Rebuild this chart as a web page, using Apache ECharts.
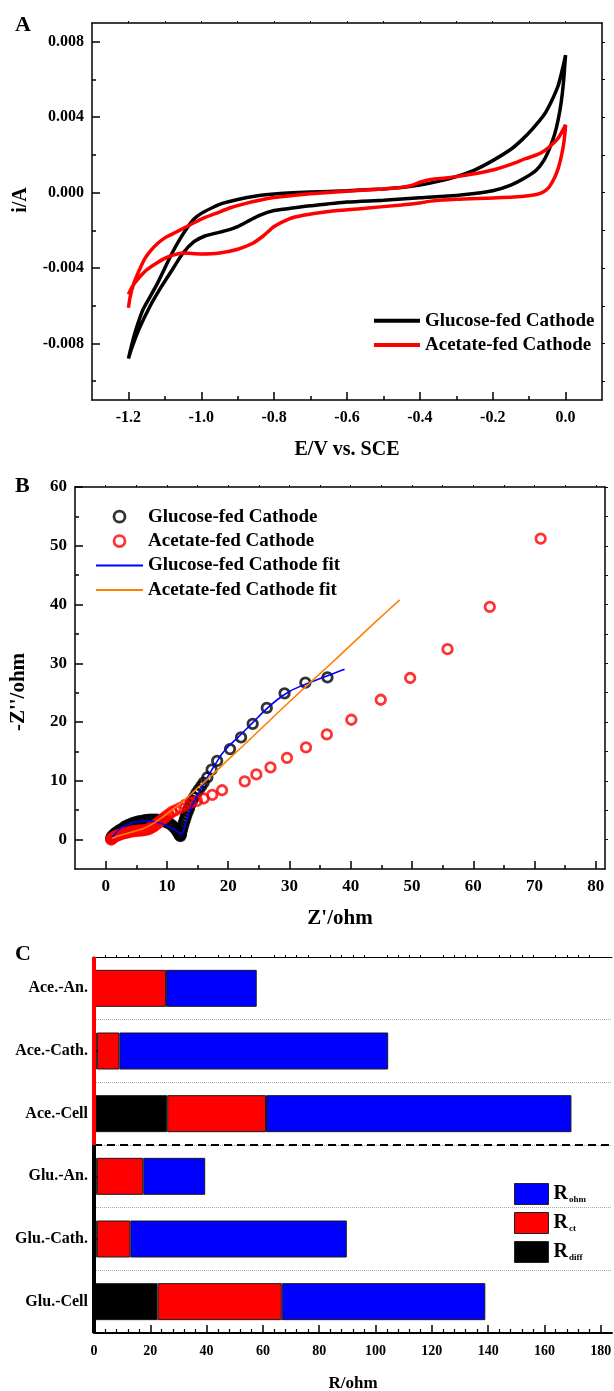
<!DOCTYPE html>
<html><head><meta charset="utf-8">
<script src="https://cdn.jsdelivr.net/npm/echarts@6/dist/echarts.min.js"></script>
<style>html,body{margin:0;padding:0;background:#fff}#c{width:614px;height:1391px}</style>
</head><body><div id="c"></div>
<script>
// ---------- Panel A: cyclic voltammetry [E (V vs SCE), i (A)] ----------
const cvGlucose = [
 [-1.2,-0.0088],[-1.19,-0.0080],[-1.18,-0.0073],[-1.16,-0.0062],[-1.14,-0.0055],[-1.12,-0.0048],[-1.10,-0.0040],
 [-1.08,-0.0032],[-1.06,-0.0025],[-1.04,-0.0019],[-1.02,-0.0014],[-1.0,-0.0011],[-0.97,-0.0008],[-0.94,-0.00056],
 [-0.90,-0.00036],[-0.85,-0.00018],[-0.80,-0.00007],[-0.70,0.00003],[-0.60,0.0001],[-0.50,0.0002],[-0.45,0.00027],
 [-0.40,0.0004],[-0.35,0.0006],[-0.30,0.00085],[-0.25,0.0012],[-0.20,0.0017],[-0.15,0.0023],[-0.12,0.0028],
 [-0.09,0.0034],[-0.06,0.0041],[-0.04,0.0048],[-0.02,0.0057],[-0.008,0.0066],[0,0.0073],
 [-0.002,0.0068],[-0.006,0.0058],[-0.012,0.0048],[-0.02,0.0039],[-0.03,0.0031],[-0.045,0.0023],[-0.06,0.0017],
 [-0.08,0.0012],[-0.11,0.0008],[-0.15,0.0004],[-0.2,0.0001],[-0.25,-0.00005],[-0.3,-0.00015],[-0.4,-0.00027],
 [-0.5,-0.0004],[-0.6,-0.0005],[-0.7,-0.0007],[-0.75,-0.00082],[-0.8,-0.00095],[-0.84,-0.0012],[-0.87,-0.0015],
 [-0.9,-0.0018],[-0.93,-0.002],[-0.96,-0.00215],[-0.99,-0.0023],[-1.02,-0.0026],[-1.05,-0.0032],[-1.08,-0.0041],
 [-1.11,-0.005],[-1.14,-0.006],[-1.17,-0.0072],[-1.19,-0.0082],[-1.2,-0.0088]
];
const cvAcetate = [
 [-1.2,-0.0061],[-1.195,-0.0055],[-1.185,-0.0048],[-1.17,-0.0041],[-1.155,-0.0035],[-1.14,-0.0031],[-1.12,-0.0027],
 [-1.10,-0.0024],[-1.08,-0.0022],[-1.06,-0.0020],[-1.03,-0.0017],[-1.0,-0.0014],[-0.96,-0.0011],[-0.92,-0.0008],
 [-0.88,-0.00058],[-0.84,-0.0004],[-0.8,-0.00026],[-0.75,-0.00015],[-0.7,-0.00006],[-0.6,0.00008],[-0.5,0.0002],
 [-0.45,0.00028],[-0.42,0.0004],[-0.4,0.00055],[-0.37,0.0007],[-0.33,0.00078],[-0.3,0.00085],[-0.25,0.001],
 [-0.2,0.0012],[-0.15,0.0015],[-0.11,0.0018],[-0.08,0.002],[-0.06,0.0022],[-0.04,0.0025],[-0.02,0.0029],
 [-0.008,0.0033],[0,0.0036],
 [-0.002,0.0031],[-0.006,0.0025],[-0.012,0.0019],[-0.02,0.0013],[-0.03,0.0008],[-0.045,0.0003],[-0.06,0.00005],
 [-0.08,-0.0001],[-0.12,-0.0002],[-0.2,-0.00028],[-0.3,-0.00035],[-0.37,-0.00045],[-0.4,-0.00055],[-0.45,-0.00065],
 [-0.55,-0.00083],[-0.65,-0.001],[-0.72,-0.0012],[-0.76,-0.0014],[-0.8,-0.0018],[-0.83,-0.0023],[-0.86,-0.0027],
 [-0.9,-0.003],[-0.95,-0.0032],[-1.0,-0.00325],[-1.05,-0.0032],[-1.09,-0.0034],[-1.12,-0.0037],[-1.15,-0.0041],
 [-1.17,-0.0045],[-1.19,-0.005],[-1.2,-0.0054]
];
const aXTicks = [-1.2,-1.0,-0.8,-0.6,-0.4,-0.2,0.0];
const aXMinor = [-1.1,-0.9,-0.7,-0.5,-0.3,-0.1];
const aYTicks = [-0.008,-0.004,0,0.004,0.008];
const aYMinor = [-0.01,-0.006,-0.002,0.002,0.006];

// ---------- Panel B: Nyquist plot [Z' (ohm), -Z'' (ohm)] ----------
const eisGlucose = [
 [0.9,0.2],[1.0,0.4],[1.1,0.6],[1.3,0.8],[1.5,1.0],[1.7,1.2],[2.0,1.4],[2.3,1.6],[2.6,1.8],[3.0,2.1],[3.3,2.3],
 [3.7,2.5],[4.0,2.6],[4.4,2.8],[4.8,2.95],[5.2,3.05],[5.6,3.15],[6.0,3.2],[6.4,3.3],[6.8,3.35],[7.2,3.4],[7.6,3.4],
 [8.0,3.4],[8.4,3.38],[8.8,3.32],[9.2,3.25],[9.6,3.12],[10.0,2.95],[10.4,2.75],[10.8,2.45],[11.1,2.15],[11.4,1.85],
 [11.6,1.55],[11.8,1.25],[12.0,0.95],[12.1,0.75],[12.2,0.6],[12.25,0.8],[12.3,1.1],[12.4,1.5],[12.5,1.9],
 [12.6,2.3],[12.75,2.8],[12.9,3.3],[13.05,3.8],[13.2,4.3],[13.4,4.8],[13.6,5.3],[13.8,5.9],[14.1,6.6],[14.4,7.2],
 [14.8,7.9],[15.2,8.5],[15.6,9.1],[16.0,9.7],[16.6,10.6],[17.3,11.9],[18.2,13.4],[20.3,15.4],[22.1,17.4],
 [24.0,19.7],[26.3,22.4],[29.2,24.9],[32.6,26.7],[36.2,27.6]
];
const eisAcetate = [
 [0.9,0.0],[1.0,0.15],[1.2,0.3],[1.4,0.45],[1.7,0.6],[2.0,0.75],[2.3,0.85],[2.7,1.0],[3.1,1.1],[3.5,1.2],
 [3.9,1.3],[4.3,1.4],[4.7,1.45],[5.1,1.5],[5.5,1.55],[5.9,1.55],[6.3,1.6],[6.7,1.7],[7.0,1.8],[7.3,1.95],[7.6,2.1],
 [7.9,2.3],[8.2,2.55],[8.5,2.8],[8.8,3.05],[9.1,3.3],[9.4,3.55],[9.8,3.9],[10.3,4.3],[10.8,4.7],[11.4,5.0],
 [12.2,5.4],[13.0,5.9],[13.9,6.3],[14.9,6.6],[16.0,7.0],[17.4,7.6],[19.0,8.4],[22.7,9.9],[24.6,11.1],[26.9,12.3],
 [29.6,13.9],[32.7,15.7],[36.1,17.9],[40.1,20.4],[44.9,23.8],[49.7,27.5],[55.8,32.4],[62.7,39.6],[71.0,51.2]
];
const fitGlucose = [
 [1,0.3],[1.5,0.9],[2,1.5],[2.5,2.0],[3,2.3],[4,2.7],[5,3.0],[6,3.1],[7,3.15],[8,3.05],[9,2.8],[10,2.4],[11,1.8],
 [12,1.2],[12.5,1.0],[13,2.6],[13.5,4.2],[14,5.6],[15,7.6],[16,9.5],[17,11.3],[18,13.0],[19,14.6],[20,15.8],
 [22,17.8],[24,19.9],[26,22.0],[28,23.8],[30,25.2],[32,26.2],[34,27.0],[36,27.8],[38,28.6],[39,29.0]
];
const fitAcetate = [
 [1,0.2],[2,0.6],[3,0.9],[4,1.2],[5,1.5],[6,1.8],[7,2.3],[8,2.9],[9,3.6],[10,4.4],[11,5.2],[12,6.0],[13,6.9],
 [14,7.8],[15,8.8],[16,9.7],[18,11.6],[20,13.6],[24,17.5],[28,21.5],[32,25.4],[36,29.2],[40,33.1],[44,37.0],[48,40.8]
];
const bXTicks = [0,10,20,30,40,50,60,70,80];
const bXMinor = [5,15,25,35,45,55,65,75];
const bYTicks = [0,10,20,30,40,50,60];
const bYMinor = [5,15,25,35,45,55];

// ---------- Panel C: resistance components (ohm) ----------
const cCategories = ['Ace.-An.','Ace.-Cath.','Ace.-Cell','Glu.-An.','Glu.-Cath.','Glu.-Cell'];
const rDiff = [0, 1, 26, 1, 1, 22.6];
const rCt   = [25.6, 8, 35.1, 16.5, 11.9, 44.1];
const rOhm  = [32.2, 95.5, 108.5, 22, 76.9, 72.3];
const cXTicks = [0,20,40,60,80,100,120,140,160,180];
const cXMinor = [];
for (let v = 4; v < 184; v += 4) if (v % 20) cXMinor.push(v);

// ---------- styling helpers ----------
const F = "'Liberation Serif','Times New Roman',serif";
const lab = (size, extra) => Object.assign({fontFamily: F, fontWeight: 'bold', fontSize: size, color: '#000'}, extra || {});
const line = (w) => ({show: true, onZero: false, lineStyle: {color: '#000', width: w || 1.5}});
const noLine = {show: false, onZero: false};

function vAxis(grid, min, max, pos, o) {
  return Object.assign({type: 'value', gridIndex: grid, min: min, max: max, position: pos,
    splitLine: {show: false}, axisLine: noLine, axisLabel: {show: false}, axisTick: {show: false}}, o);
}
const lineItem = (name, w) => ({name: name, itemStyle: {opacity: 0}, lineStyle: {width: w}});
const ringItem = (name) => ({name: name, itemStyle: {borderWidth: 2.8}});

const chart = echarts.init(document.getElementById('c'), null, {renderer: 'canvas'});
const option = {
  animation: false,
  backgroundColor: '#fff',
  grid: [
    {left: 92, top: 23, width: 510, height: 377, outerBoundsMode: 'none', containLabel: false},
    {left: 75, top: 487, width: 530, height: 382, outerBoundsMode: 'none', containLabel: false},
    {left: 94, top: 957, width: 518, height: 376, outerBoundsMode: 'none', containLabel: false}
  ],
  xAxis: [
    // A
    vAxis(0, -1.3, 0.1, 'bottom', {axisLine: line(1.5),
      axisTick: {show: true, inside: true, length: 8, customValues: aXTicks, lineStyle: {width: 1.5, color: '#000'}},
      axisLabel: Object.assign({show: true, customValues: aXTicks, margin: 10, formatter: v => v.toFixed(1)}, lab(16)),
      name: 'E/V vs. SCE', nameLocation: 'middle', nameGap: 40, nameTextStyle: lab(20)}),
    vAxis(0, -1.3, 0.1, 'bottom', {axisTick: {show: true, inside: true, length: 4, customValues: aXMinor, lineStyle: {width: 1.5, color: '#000'}}}),
    vAxis(0, -1.3, 0.1, 'top', {axisLine: line(1.5),
      axisTick: {show: true, inside: false, length: 2, customValues: aXTicks.concat(aXMinor), lineStyle: {width: 1, color: '#000'}}}),
    // B
    vAxis(1, -5, 81.5, 'bottom', {axisLine: line(1.5),
      axisTick: {show: true, inside: true, length: 8, customValues: bXTicks, lineStyle: {width: 1.5, color: '#000'}},
      axisLabel: Object.assign({show: true, customValues: bXTicks, margin: 9}, lab(17)),
      name: "Z'/ohm", nameLocation: 'middle', nameGap: 39, nameTextStyle: lab(21)}),
    vAxis(1, -5, 81.5, 'bottom', {axisTick: {show: true, inside: true, length: 4, customValues: bXMinor, lineStyle: {width: 1.5, color: '#000'}}}),
    vAxis(1, -5, 81.5, 'top', {axisLine: line(1.5),
      axisTick: {show: true, inside: false, length: 2, customValues: bXTicks.concat(bXMinor), lineStyle: {width: 1, color: '#000'}}}),
    // C
    vAxis(2, 0, 184, 'bottom', {axisLine: line(2),
      axisTick: {show: true, inside: true, length: 8, customValues: cXTicks, lineStyle: {width: 1.5, color: '#000'}},
      axisLabel: Object.assign({show: true, customValues: cXTicks, margin: 11}, lab(14)),
      name: 'R/ohm', nameLocation: 'middle', nameGap: 42, nameTextStyle: lab(17)}),
    vAxis(2, 0, 184, 'bottom', {axisTick: {show: true, inside: true, length: 4, customValues: cXMinor, lineStyle: {width: 1.2, color: '#000'}}}),
    vAxis(2, 0, 184, 'top', {axisLine: line(1.2),
      axisTick: {show: true, inside: false, length: 2, customValues: cXMinor, lineStyle: {width: 1, color: '#000'}}})
  ],
  yAxis: [
    // A
    vAxis(0, -0.011, 0.009, 'left', {axisLine: line(1.5),
      axisTick: {show: true, inside: true, length: 8, customValues: aYTicks, lineStyle: {width: 1.5, color: '#000'}},
      axisLabel: Object.assign({show: true, customValues: aYTicks, margin: 8, formatter: v => v.toFixed(3)}, lab(16))}),
    vAxis(0, -0.011, 0.009, 'left', {axisTick: {show: true, inside: true, length: 4, customValues: aYMinor, lineStyle: {width: 1.5, color: '#000'}}}),
    vAxis(0, -0.011, 0.009, 'right', {axisLine: line(1.5),
      axisTick: {show: true, inside: false, length: 3, customValues: aYTicks.concat(aYMinor), lineStyle: {width: 1, color: '#000'}}}),
    // B
    vAxis(1, -5, 60, 'left', {axisLine: line(1.5),
      axisTick: {show: true, inside: true, length: 8, customValues: bYTicks, lineStyle: {width: 1.5, color: '#000'}},
      axisLabel: Object.assign({show: true, customValues: bYTicks, margin: 8}, lab(17))}),
    vAxis(1, -5, 60, 'left', {axisTick: {show: true, inside: true, length: 4, customValues: bYMinor, lineStyle: {width: 1.5, color: '#000'}}}),
    vAxis(1, -5, 60, 'right', {axisLine: line(1.5),
      axisTick: {show: true, inside: false, length: 3, customValues: bYTicks.concat(bYMinor), lineStyle: {width: 1, color: '#000'}}}),
    // C
    {type: 'category', gridIndex: 2, data: cCategories, inverse: true, position: 'left',
      axisLine: {show: false},
      axisTick: {show: true, inside: true, alignWithLabel: true, length: 6, lineStyle: {width: 1.5, color: '#000'}},
      axisLabel: Object.assign({margin: 6}, lab(16)),
      splitLine: {show: true, lineStyle: {color: '#a8a8a8', type: 'dotted', width: 1}}},
    {type: 'category', gridIndex: 2, data: cCategories, inverse: true, position: 'right',
      axisLine: {show: true, lineStyle: {color: '#000', width: 1.5}},
      axisTick: {show: true, inside: false, alignWithLabel: true, length: 3, lineStyle: {width: 1, color: '#000'}},
      axisLabel: {show: false}, splitLine: {show: false}},
    {type: 'value', gridIndex: 2, min: 0, max: 6, inverse: true, show: false, position: 'left'}
  ],
  legend: [
    {left: 367, top: 305.7, orient: 'vertical', itemWidth: 46, itemHeight: 14, itemGap: 4.3, selectedMode: false,
      data: [lineItem('Glucose-fed Cathode', 4), lineItem('Acetate-fed Cathode', 4)],
      textStyle: lab(19, {lineHeight: 20})},
    {left: 90, top: 501.7, orient: 'vertical', itemWidth: 47, itemHeight: 11, itemGap: 4.4, selectedMode: false,
      data: [ringItem('EIS Glucose-fed Cathode'), ringItem('EIS Acetate-fed Cathode'),
             lineItem('Glucose-fed Cathode fit', 2), lineItem('Acetate-fed Cathode fit', 2)],
      formatter: n => n.replace('EIS ', ''),
      textStyle: lab(19, {lineHeight: 20})},
    {left: 509, top: 1174, orient: 'vertical', itemWidth: 34, itemHeight: 21, itemGap: -1, selectedMode: false,
      icon: 'rect', itemStyle: {borderColor: '#222', borderWidth: 1},
      data: ['R_ohm', 'R_ct', 'R_diff'],
      formatter: n => '{r|R}{s|' + n.split('_')[1] + '}',
      textStyle: {rich: {
        r: {fontFamily: F, fontWeight: 'bold', fontSize: 20, color: '#000', lineHeight: 21, padding: [5, 0, 5, 0]},
        s: {fontFamily: F, fontWeight: 'bold', fontSize: 9, color: '#000', verticalAlign: 'bottom', padding: [0, 0, 0, 1]}
      }}}
  ],
  series: [
    // A
    {type: 'line', name: 'Glucose-fed Cathode', xAxisIndex: 0, yAxisIndex: 0, data: cvGlucose, symbol: 'none',
      smooth: 0.25, lineStyle: {color: '#000', width: 3.5}, itemStyle: {color: '#000'}},
    {type: 'line', name: 'Acetate-fed Cathode', xAxisIndex: 0, yAxisIndex: 0, data: cvAcetate, symbol: 'none',
      smooth: 0.25, lineStyle: {color: '#ff0000', width: 3.5}, itemStyle: {color: '#ff0000'}},
    // B
    {type: 'scatter', name: 'EIS Glucose-fed Cathode', xAxisIndex: 3, yAxisIndex: 3, data: eisGlucose,
      symbol: 'circle', symbolSize: 9.5, symbolKeepAspect: true,
      itemStyle: {color: 'rgba(0,0,0,0)', borderColor: '#000', borderWidth: 2.8}},
    {type: 'scatter', name: 'EIS Acetate-fed Cathode', xAxisIndex: 3, yAxisIndex: 3, data: eisAcetate,
      symbol: 'circle', symbolSize: 9.5, symbolKeepAspect: true,
      itemStyle: {color: 'rgba(0,0,0,0)', borderColor: '#ff0000', borderWidth: 2.8}},
    {type: 'line', name: 'Glucose-fed Cathode fit', xAxisIndex: 3, yAxisIndex: 3, data: fitGlucose, symbol: 'none',
      smooth: 0.3, lineStyle: {color: '#0000ff', width: 1.6}, itemStyle: {color: '#0000ff'}},
    {type: 'line', name: 'Acetate-fed Cathode fit', xAxisIndex: 3, yAxisIndex: 3, data: fitAcetate, symbol: 'none',
      smooth: 0.3, lineStyle: {color: '#ff8000', width: 1.6}, itemStyle: {color: '#ff8000'}},
    // C
    {type: 'bar', name: 'R_diff', stack: 'r', xAxisIndex: 6, yAxisIndex: 6, data: rDiff, barWidth: 37,
      itemStyle: {color: '#000000', borderColor: '#1a1a1a', borderWidth: 1}},
    {type: 'bar', name: 'R_ct', stack: 'r', xAxisIndex: 6, yAxisIndex: 6, data: rCt, barWidth: 37,
      itemStyle: {color: '#ff0000', borderColor: '#1a1a1a', borderWidth: 1}},
    {type: 'bar', name: 'R_ohm', stack: 'r', xAxisIndex: 6, yAxisIndex: 6, data: rOhm, barWidth: 37,
      itemStyle: {color: '#0000ff', borderColor: '#1a1a1a', borderWidth: 1}},
    {type: 'line', name: 'helper', xAxisIndex: 6, yAxisIndex: 8, data: [[0, 0]], symbol: 'none', clip: false,
      lineStyle: {opacity: 0}, silent: true,
      markLine: {symbol: 'none', silent: true, label: {show: false}, animation: false,
        data: [
          {yAxis: 3, lineStyle: {type: [8, 5], color: '#000', width: 2}},
          [{coord: [0, 0], lineStyle: {color: '#ff0000', width: 4, type: 'solid'}}, {coord: [0, 3]}],
          [{coord: [0, 3], lineStyle: {color: '#000', width: 4, type: 'solid'}}, {coord: [0, 6]}]
        ]}}
  ],
  graphic: [
    {type: 'text', x: 15, y: 25, style: {text: 'A', font: 'bold 22px ' + F, fill: '#000', verticalAlign: 'middle'}},
    {type: 'text', x: 15, y: 486, style: {text: 'B', font: 'bold 22px ' + F, fill: '#000', verticalAlign: 'middle'}},
    {type: 'text', x: 15, y: 954, style: {text: 'C', font: 'bold 22px ' + F, fill: '#000', verticalAlign: 'middle'}},
    {type: 'text', x: 21, y: 200, rotation: Math.PI / 2,
      style: {text: 'i/A', font: 'bold 20px ' + F, fill: '#000', align: 'center', verticalAlign: 'middle'}},
    {type: 'text', x: 19, y: 692, rotation: Math.PI / 2,
      style: {text: "-Z''/ohm", font: 'bold 21px ' + F, fill: '#000', align: 'center', verticalAlign: 'middle'}}
  ]
};
chart.setOption(option);
</script>
</body></html>
